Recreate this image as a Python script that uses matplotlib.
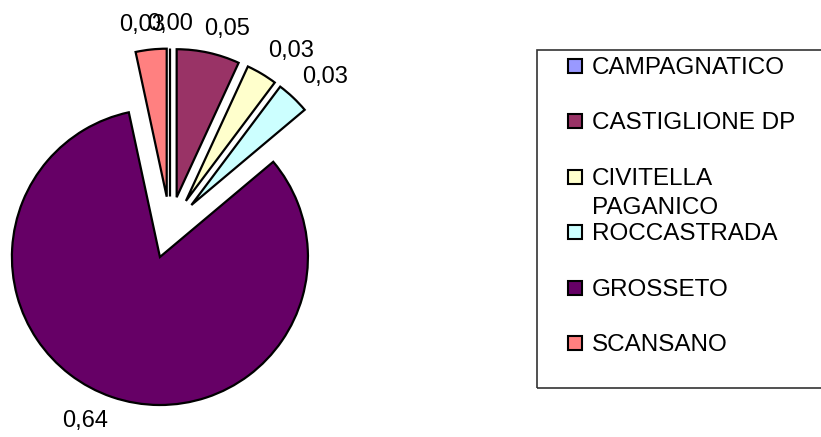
import numpy as np
import matplotlib.pyplot as plt
from matplotlib.patches import Rectangle

comuni = ["CAMPAGNATICO", "CASTIGLIONE DP", "CIVITELLA\nPAGANICO", "ROCCASTRADA", "GROSSETO", "SCANSANO"]
valori = [0.0, 0.053, 0.026, 0.028, 0.638, 0.026]
colori = ["#9999FF", "#993366", "#FFFFCC", "#CCFFFF", "#660066", "#FF8080"]

plt.rcParams["font.family"] = ["Liberation Sans", "DejaVu Sans"]

W, H = 821, 437
fig = plt.figure(figsize=(W / 100, H / 100), dpi=100)
ax = fig.add_axes([0, 0, 1, 1])

# pie radius and centre in pixels
R = 148
cx, cy = 170, H - 227.6

wedges, _ = ax.pie(valori, colors=colori, startangle=90, counterclock=False,
                   explode=[0.21] * len(valori),
                   wedgeprops=dict(edgecolor="black", linewidth=1.6))
ax.set_xlim(-cx / R, (W - cx) / R)
ax.set_ylim(-cy / R, (H - cy) / R)
ax.set_aspect("auto")
ax.axis("off")

# value labels just outside each slice, pushed out by part of their box
fig.canvas.draw()
rend = fig.canvas.get_renderer()
for w, v in zip(wedges, valori):
    ang = np.deg2rad((w.theta1 + w.theta2) / 2)
    ux, uy = np.cos(ang), np.sin(ang)
    x0, y0 = w.center
    t = ax.text(0, 0, f"{v:.2f}".replace(".", ","), fontsize=17, ha="center", va="center")
    bb = t.get_window_extent(rend)
    sx = np.clip(3.2 * ux, -1, 1)
    sy = np.clip(3.2 * uy, -1, 1)
    t.set_position((x0 + 1.09 * ux + sx * bb.width / 2 / R,
                    y0 + 1.09 * uy + sy * bb.height / 2 / R))


def fx(px):
    return px / W


def fy(py):
    return 1 - py / H


# legend box
fig.add_artist(Rectangle((fx(537), fy(388)), fx(400), (388 - 50) / H, transform=fig.transFigure,
                         fill=False, edgecolor="#333333", linewidth=1.2))
for i, (nome, col) in enumerate(zip(comuni, colori)):
    yc = 66 + 55.4 * i
    fig.add_artist(Rectangle((fx(568), fy(yc + 7)), 14 / W, 14 / H, transform=fig.transFigure,
                             facecolor=col, edgecolor="black", linewidth=1.5))
    fig.text(fx(592), fy(yc - 9), nome, fontsize=17.5, ha="left", va="top", linespacing=1.42)

fig.savefig("out.png", dpi=100)
